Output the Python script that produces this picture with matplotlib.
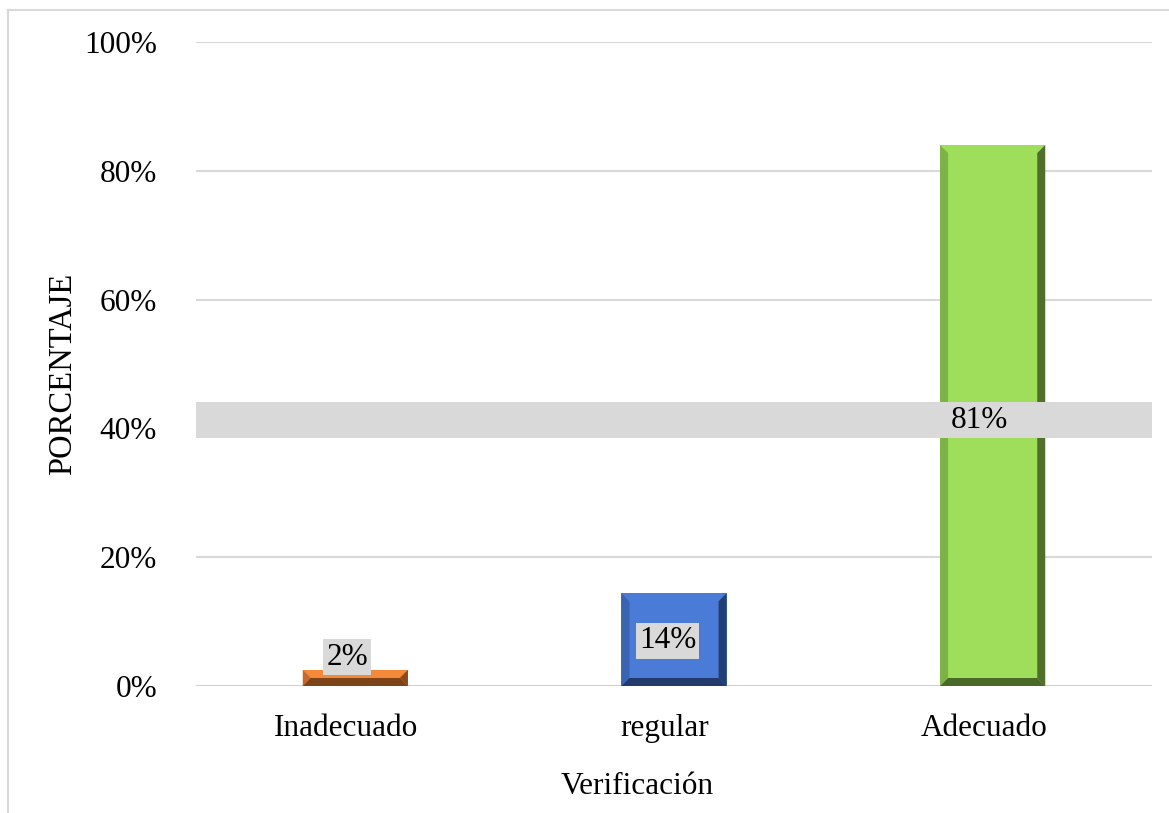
import matplotlib
matplotlib.use("Agg")
import matplotlib.pyplot as plt
from matplotlib.patches import Polygon, Rectangle
from matplotlib.lines import Line2D
from matplotlib.transforms import ScaledTranslation

categories = ["Inadecuado", "regular", "Adecuado"]
values = [2.5, 14.4, 84.0]          # bar heights (%)
labels = ["2%", "14%", "81%"]       # data label texts
label_y = [4.5, 7.0, 41.3]          # label vertical positions (%)
yticks = [0, 20, 40, 60, 80, 100]
ytick_labels = ["0%", "20%", "40%", "60%", "80%", "100%"]

face_colors = ["#F5893A", "#4A7BD6", "#9EDE5A"]
left_colors = ["#C9682A", "#3A63B0", "#7DB244"]
right_colors = ["#8A4A1E", "#253F75", "#4F6F2B"]
bottom_colors = ["#7E4419", "#233B6C", "#4A6828"]

plt.rcParams['font.family'] = ['Liberation Serif', 'DejaVu Serif']
FS = 22.5

W, H = 1169, 813
fig = plt.figure(figsize=(W / 100, H / 100), dpi=100)
ax_left, ax_right, ax_bottom, ax_top = 196, 1152, 686, 42
ax = fig.add_axes([ax_left / W, 1 - ax_bottom / H, (ax_right - ax_left) / W, (ax_bottom - ax_top) / H])
ax.set_xlim(-0.5, 2.5)
ax.set_ylim(0, 100)

# pixel -> data scale
px_x = 3.0 / (ax_right - ax_left)
px_y = 100.0 / (ax_bottom - ax_top)

ax.set_yticks(yticks)
ax.set_yticklabels(ytick_labels, fontsize=FS)
ax.set_xticks(range(len(categories)))
ax.set_xticklabels(categories, fontsize=FS)
ax.tick_params(axis='y', length=0, pad=28)
ax.tick_params(axis='x', length=0, pad=20.5)
shift = ScaledTranslation(-9 / 100, 0, fig.dpi_scale_trans)
for lab in ax.get_xticklabels():
    lab.set_transform(lab.get_transform() + shift)
for s in ax.spines.values():
    s.set_visible(False)
ax.grid(axis='y', color='#D9D9D9', linewidth=1.5, zorder=0)
ax.set_axisbelow(True)
ax.axhline(0, color='#D0D0D0', linewidth=2, zorder=1)

bw = 0.33
bev_x = 8 * px_x
bev_y = 8 * px_y
for i, v in enumerate(values):
    x0, x1 = i - bw / 2, i + bw / 2
    y0, y1 = 0, v
    by = min(bev_y, v / 2)
    bx = bev_x
    ax.add_patch(Rectangle((x0, y0), bw, v, facecolor=face_colors[i], edgecolor='none', zorder=3))
    # left bevel
    ax.add_patch(Polygon([(x0, y0), (x0, y1), (x0 + bx, y1 - by), (x0 + bx, y0 + by)],
                         closed=True, facecolor=left_colors[i], edgecolor='none', zorder=4))
    # right bevel
    ax.add_patch(Polygon([(x1, y0), (x1, y1), (x1 - bx, y1 - by), (x1 - bx, y0 + by)],
                         closed=True, facecolor=right_colors[i], edgecolor='none', zorder=4))
    # bottom bevel
    ax.add_patch(Polygon([(x0, y0), (x1, y0), (x1 - bx, y0 + by), (x0 + bx, y0 + by)],
                         closed=True, facecolor=bottom_colors[i], edgecolor='none', zorder=4))

# data labels
offsets = [-0.025, -0.02, -0.04]
for i, (lab, ly) in enumerate(zip(labels, label_y)):
    if i == 2:
        ax.add_patch(Rectangle((0, ly - 18 * px_y), 1, 36 * px_y, transform=ax.get_yaxis_transform(),
                               facecolor='#D9D9D9', edgecolor='none', zorder=5, clip_on=False))
        ax.text(i + offsets[i], ly, lab, ha='center', va='center', fontsize=FS, zorder=6)
    else:
        ax.text(i + offsets[i], ly, lab, ha='center', va='center', fontsize=FS, zorder=6,
                bbox=dict(boxstyle='square,pad=0.1', facecolor='#D9D9D9', edgecolor='none'))

ax.set_ylabel("PORCENTAJE", fontsize=23.5)
ax.yaxis.set_label_coords(-0.123, 0.484)
ax.set_xlabel("Verificación", fontsize=FS)
ax.xaxis.set_label_coords(0.461, -0.133)

# figure frame lines (left and top)
fig.add_artist(Line2D([8 / W, 8 / W], [0, 1 - 10 / H], transform=fig.transFigure, color='#D9D9D9', linewidth=1.5))
fig.add_artist(Line2D([8 / W, 1], [1 - 10 / H, 1 - 10 / H], transform=fig.transFigure, color='#D9D9D9', linewidth=1.5))

fig.savefig("out.png", dpi=100)
